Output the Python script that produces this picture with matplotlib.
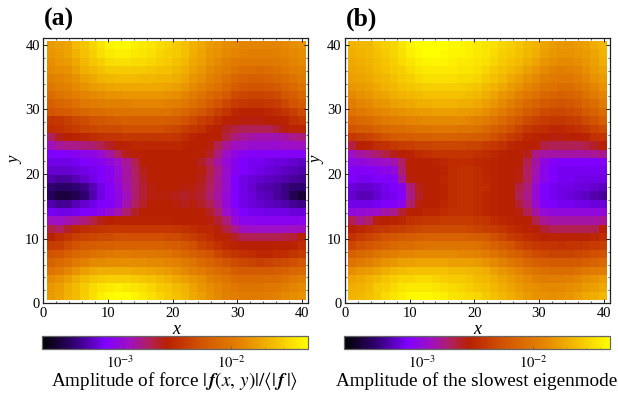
import numpy as np
import matplotlib
matplotlib.use("Agg")
import matplotlib.pyplot as plt
from matplotlib.colors import LinearSegmentedColormap, LogNorm
from matplotlib.ticker import MultipleLocator, FixedLocator, NullFormatter, FuncFormatter

plt.rcParams['font.family'] = ['Liberation Serif', 'DejaVu Serif']
plt.rcParams['mathtext.fontset'] = 'stix'

LOG_MIN = -3.70
LOG_MAX = -1.31

# Colour-scale position (percent of the log range), top row is y=40, bottom row is y=0
force_levels = [
[80,81,82,87,89,92,95,98,99,99,97,96,95,93,92,90,88,85,83,80,79,77,76,75,75,75,75,75,76,77,78],
[79,80,82,85,88,91,94,96,97,97,96,95,94,92,91,90,88,84,82,79,78,76,75,74,73,73,73,74,75,76,77],
[77,79,80,83,86,89,91,93,94,94,93,93,92,91,90,88,86,83,81,78,76,74,72,71,71,71,71,72,73,75,76],
[76,77,78,81,84,86,88,90,90,90,90,90,89,88,88,86,84,81,79,76,74,72,70,68,68,67,68,69,71,73,74],
[74,75,76,78,81,83,85,86,87,87,87,86,86,85,85,84,82,79,77,74,72,69,66,65,64,64,65,66,68,70,72],
[71,73,74,76,78,80,81,82,83,83,83,83,83,83,82,81,79,76,74,71,69,66,63,61,60,60,61,62,65,67,69],
[68,70,71,73,75,76,77,78,78,79,79,79,79,79,78,77,75,72,70,67,65,62,58,57,56,56,57,58,61,63,66],
[64,66,67,69,71,72,73,74,74,74,75,75,75,75,74,73,71,69,66,63,60,57,54,53,52,52,53,54,57,60,62],
[60,62,63,65,66,68,68,69,70,70,70,70,70,70,70,68,66,63,61,58,55,52,49,48,48,48,49,50,52,55,58],
[52,53,55,57,58,60,61,62,63,64,64,64,64,64,63,62,60,58,55,53,50,48,47,46,46,46,47,47,48,51,53],
[50,51,53,54,56,57,58,58,58,59,59,59,59,59,58,57,55,53,51,48,47,44,42,41,41,41,41,43,46,48,48],
[40,45,47,48,49,50,51,52,52,53,53,53,53,53,53,52,50,48,47,47,47,42,38,36,35,34,34,34,35,37,38],
[33,36,37,37,38,39,41,44,47,48,49,49,49,49,49,49,48,47,47,46,41,36,33,32,31,31,31,31,32,32,33],
[24,24,25,26,27,28,30,35,40,45,47,47,47,47,47,47,47,47,47,44,38,32,28,26,25,25,25,25,25,25,25],
[22,22,22,23,24,25,26,29,32,36,41,47,47,47,47,47,47,47,44,40,35,30,26,24,23,23,22,21,21,20,19],
[20,20,20,21,22,23,24,26,30,35,40,45,47,47,47,47,47,47,46,42,37,31,26,24,23,22,21,20,19,18,17],
[17,16,16,18,20,22,24,26,30,35,39,44,47,47,47,47,47,47,45,41,36,31,24,22,21,20,19,18,17,16,15],
[12,11,11,12,14,18,22,25,29,34,39,43,46,47,47,47,46,46,44,40,36,31,24,22,20,18,17,16,14,12,12],
[10,7,7,9,12,17,22,25,28,33,39,43,46,46,46,45,44,45,43,39,35,30,24,22,21,19,18,16,14,9,6],
[17,15,15,18,20,22,24,25,28,34,40,44,47,47,47,46,45,46,44,41,36,30,24,22,21,20,19,18,17,15,14],
[23,22,22,23,24,25,27,30,34,39,44,47,47,47,47,47,47,47,47,44,39,32,27,24,23,23,22,22,22,21,21],
[33,32,34,36,38,42,45,47,48,48,48,48,48,48,48,47,47,47,47,46,43,38,30,27,27,26,26,26,26,26,27],
[42,40,44,49,50,51,52,53,53,53,53,53,53,53,53,52,51,50,49,49,46,42,37,33,32,32,32,32,32,33,33],
[47,50,52,55,56,57,58,58,59,59,59,59,59,59,58,58,56,54,52,50,48,48,44,41,41,41,41,41,42,43,47],
[54,55,58,60,62,63,64,64,65,65,65,65,65,65,64,63,61,59,56,54,51,49,48,47,47,47,47,47,47,48,50],
[60,61,64,66,68,69,70,71,72,72,71,71,71,70,70,68,66,64,62,60,57,54,52,51,50,49,49,50,50,52,54],
[65,67,69,72,74,76,76,77,77,77,77,77,76,76,75,74,72,70,67,65,63,60,58,57,56,55,56,57,58,59,61],
[70,72,75,78,81,83,84,84,84,84,83,83,82,81,80,78,76,74,72,70,68,66,63,62,62,62,62,63,64,66,67],
[76,78,81,84,87,89,90,91,91,91,90,89,88,87,85,83,81,79,77,74,72,70,68,67,67,67,68,68,69,71,73],
[79,81,84,87,90,93,95,96,97,96,95,94,92,90,89,87,85,82,79,77,75,73,71,70,70,70,71,71,73,75,76],
[80,82,85,87,91,94,97,99,100,100,98,96,94,92,90,88,86,83,81,78,76,74,73,72,72,72,73,74,76,77,78],
]

mode_levels = [
[85,86,86,89,91,92,95,98,100,100,100,100,99,98,97,96,95,94,92,91,89,87,85,82,80,79,79,80,81,84,86],
[84,85,86,88,90,92,94,97,99,100,100,99,98,98,97,96,95,93,91,90,88,86,84,81,79,78,78,79,80,82,85],
[83,84,85,87,89,91,93,95,97,98,98,98,97,96,96,95,94,92,90,88,87,84,82,79,77,76,76,77,79,81,84],
[82,83,84,86,88,90,91,93,95,96,96,96,96,95,95,94,92,90,88,86,84,81,79,76,74,73,74,75,77,80,82],
[81,82,83,85,86,88,90,91,93,94,94,94,94,93,93,92,90,88,86,83,81,78,76,73,72,71,71,73,75,78,80],
[79,80,81,83,85,86,88,89,90,91,91,91,91,91,90,89,87,85,83,80,78,75,73,70,69,68,68,70,72,75,78],
[76,78,79,81,82,84,85,86,87,88,88,88,88,88,87,86,84,82,79,77,74,71,69,66,65,64,65,66,69,72,75],
[73,75,76,78,79,81,82,83,84,84,85,85,85,84,84,83,81,79,76,73,70,67,65,62,61,60,61,63,66,68,72],
[70,71,73,75,76,77,78,79,80,80,81,81,81,80,80,79,77,75,72,69,66,63,60,58,57,57,58,59,62,65,68],
[65,67,68,70,72,73,74,75,75,76,76,76,76,76,75,74,72,70,67,64,61,58,56,54,53,53,54,55,58,60,64],
[60,62,63,65,67,68,68,69,70,70,71,71,71,70,70,69,67,64,62,59,56,53,51,50,49,49,50,51,53,56,58],
[53,55,56,58,60,62,63,63,64,64,65,65,65,64,64,63,62,59,57,54,52,49,48,47,46,46,47,47,48,51,52],
[42,47,48,50,51,53,54,55,56,56,57,57,57,57,56,56,54,53,51,49,48,47,47,42,41,41,41,41,42,44,47],
[33,35,37,39,42,45,47,48,50,51,52,52,52,52,52,51,50,49,48,47,47,45,37,35,35,35,35,35,35,36,37],
[28,29,30,31,32,34,40,47,47,47,48,49,50,50,50,49,49,48,47,47,47,41,35,28,25,24,24,24,24,24,25],
[25,25,25,26,27,29,39,47,47,47,47,48,50,51,51,50,49,48,47,47,46,40,34,27,24,23,23,23,23,23,23],
[24,23,23,24,24,25,36,46,47,47,47,49,50,51,51,50,49,48,47,47,46,40,33,27,24,23,23,22,22,22,22],
[21,20,20,21,23,24,26,38,45,47,47,48,50,51,51,50,50,48,47,47,42,38,30,24,23,22,22,21,21,20,19],
[20,18,18,20,22,23,25,37,44,47,47,48,50,51,51,50,49,48,47,47,41,37,30,24,23,22,21,20,19,17,16],
[22,22,22,23,24,25,27,39,46,47,47,49,50,51,51,50,49,48,47,47,43,38,31,25,24,23,23,22,22,21,21],
[29,30,31,32,35,37,43,47,47,49,49,50,51,51,51,50,49,48,47,47,46,41,35,30,29,29,29,29,29,29,29],
[41,37,40,46,47,48,49,51,52,53,53,54,54,54,54,53,52,50,49,48,47,47,41,36,35,35,35,35,35,35,36],
[47,49,50,52,53,54,55,56,57,58,58,58,58,58,57,56,55,54,52,50,49,48,47,43,41,41,41,41,41,41,47],
[51,54,56,58,60,61,62,63,64,65,65,65,65,65,64,63,62,59,57,54,52,50,49,48,48,48,48,48,48,49,50],
[57,59,61,63,65,67,68,68,69,70,70,70,70,70,70,69,67,65,62,60,57,55,53,52,52,51,52,52,53,54,55],
[64,66,68,70,72,73,75,75,76,76,76,76,76,75,75,74,72,70,68,65,63,60,58,57,56,56,56,57,58,59,60],
[70,72,74,76,78,79,81,81,82,82,82,82,81,81,81,80,78,76,74,71,69,66,64,63,62,62,62,62,64,65,67],
[77,79,80,82,84,86,87,88,88,88,88,88,87,87,86,85,84,81,79,77,75,72,70,69,68,68,68,69,71,72,73],
[82,83,85,87,89,91,92,92,93,93,92,91,90,90,89,87,86,84,82,80,78,76,74,73,73,73,74,75,77,78,80],
[84,85,87,90,91,93,95,96,96,96,95,94,93,92,91,89,88,86,84,82,80,78,77,76,76,76,77,78,80,81,83],
[85,86,88,90,93,95,97,99,99,99,98,97,95,94,93,92,90,88,86,84,82,80,78,78,77,78,79,81,83,84,86],
]

cmap_stops = [
    (0.00, '#000000'), (0.12, '#300070'), (0.24, '#8000FF'), (0.33, '#A010C0'),
    (0.40, '#B02060'), (0.47, '#B82000'), (0.60, '#D25400'), (0.75, '#E48400'),
    (0.88, '#F5C000'), (1.00, '#FFFF00'),
]
titles = ['(a)', '(b)']
bar_labels = [r'Amplitude of force $|\,\mathbfit{f}(x,\,y)|/\langle|\,\mathbfit{f}\,|\rangle$',
              'Amplitude of the slowest eigenmode']

W, H = 618, 393
fig = plt.figure(figsize=(W / 100, H / 100), dpi=100)
cmap = LinearSegmentedColormap.from_list('sunsetish', cmap_stops, N=512)
norm = LogNorm(10 ** LOG_MIN, 10 ** LOG_MAX)


def box(x0, x1, y0, y1):
    return [x0 / W, 1 - y1 / H, (x1 - x0) / W, (y1 - y0) / H]


panels = [(43.3, 308.3, 42, 308, force_levels), (345, 610, 344, 610, mode_levels)]
for (x0, x1, bx0, bx1, lev), title, blabel in zip(panels, titles, bar_labels):
    ax = fig.add_axes(box(x0, x1, 38.3, 303.3))
    amp = 10 ** (LOG_MIN + np.array(lev, dtype=float) / 100 * (LOG_MAX - LOG_MIN))
    im = ax.imshow(amp, cmap=cmap, norm=norm, origin='upper', extent=(0.5, 40.5, 0.5, 40.5),
                   interpolation='nearest', aspect='auto')
    ax.set_xlim(0, 41)
    ax.set_ylim(0, 41)
    for axis in (ax.xaxis, ax.yaxis):
        axis.set_major_locator(MultipleLocator(10))
        axis.set_minor_locator(MultipleLocator(2))
    ax.tick_params(which='major', direction='in', length=3, width=0.7, top=True, right=True,
                   labelsize=10.5, pad=2.5, color='#222222')
    ax.tick_params(which='minor', direction='in', length=1.5, width=0.5, top=True, right=True,
                   color='#222222')
    for s in ax.spines.values():
        s.set_linewidth(0.9)
        s.set_color('#222222')
    ax.set_xlabel('x', fontstyle='italic', fontsize=13, labelpad=0)
    ax.set_ylabel('y', fontstyle='italic', fontsize=12)
    ax.xaxis.set_label_coords(0.5, (303.3 - 334) / 265)
    ax.yaxis.set_label_coords(-0.074, 0.54)
    ax.xaxis.label.set_va('baseline')
    fig.text((x0 + 0.5) / W, 1 - 26 / H, title, fontsize=18.5, fontweight='bold', ha='left',
             va='baseline', color='black')

    cax = fig.add_axes(box(bx0, bx1, 336, 348.5))
    cb = fig.colorbar(im, cax=cax, orientation='horizontal')
    cb.ax.xaxis.set_major_locator(FixedLocator([1e-3, 1e-2]))
    cb.ax.xaxis.set_major_formatter(FuncFormatter(lambda v, p: r'$10^{%d}$' % round(np.log10(v))))
    cb.ax.xaxis.set_minor_formatter(NullFormatter())
    cb.ax.tick_params(which='major', direction='in', length=2, width=0.5, labelsize=10.5, pad=4,
                      color='#555555')
    cb.ax.tick_params(which='minor', direction='in', length=1, width=0.4, color='#555555')
    cb.outline.set_edgecolor('#666666')
    cb.outline.set_linewidth(0.9)
    fig.text((bx0 + bx1) / 2 / W, 1 - 385.5 / H, blabel, fontsize=13.8, ha='center', va='baseline',
             color='black')

fig.savefig('out.png', dpi=100)
